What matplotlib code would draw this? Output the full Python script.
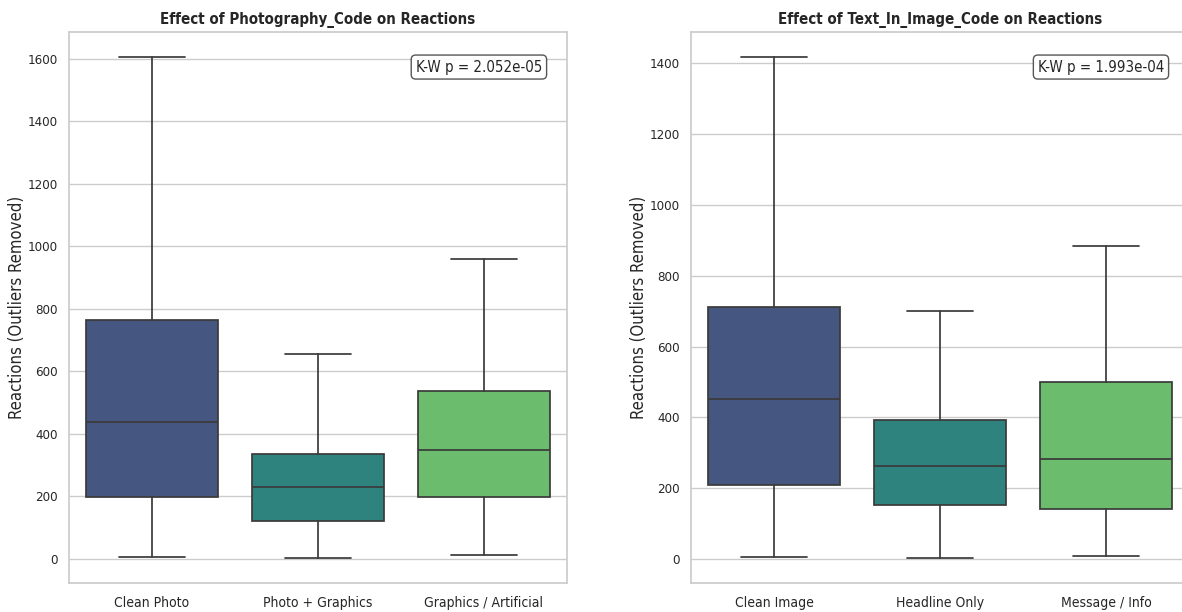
import numpy as np
import matplotlib
matplotlib.use("Agg")
import matplotlib.pyplot as plt
import seaborn as sns

## Data (whisker low, Q1, median, Q3, whisker high) ##
photo_labels = ["Clean Photo", "Photo + Graphics", "Graphics / Artificial"]
photo_low = [6, 3, 12]
photo_q1 = [198, 120, 197]
photo_med = [438, 229, 348]
photo_q3 = [764, 336, 538]
photo_high = [1606, 655, 961]
photo_p = 2.052e-05

text_labels = ["Clean Image", "Headline Only", "Message / Info"]
text_low = [6, 3, 9]
text_q1 = [209, 153, 141]
text_med = [451, 264, 282]
text_q3 = [711, 393, 499]
text_high = [1418, 700, 885]
text_p = 1.993e-04

sns.set_theme(style="whitegrid")
plt.rcParams['font.family'] = ['DejaVu Sans Condensed', 'DejaVu Sans']
plt.rcParams['font.stretch'] = 'condensed'

pal = [sns.desaturate(c, 0.75) for c in sns.color_palette("viridis", 3)]
line_col = "#3a3a3a"


def draw_panel(ax, labels, low, q1, med, q3, high, pval, col_name):
    stats = []
    for i, lab in enumerate(labels):
        stats.append(dict(label=lab, whislo=low[i], q1=q1[i], med=med[i],
                          q3=q3[i], whishi=high[i], fliers=[]))
    bp = ax.bxp(stats, positions=range(len(labels)), widths=0.8,
                patch_artist=True, showfliers=False,
                boxprops=dict(edgecolor=line_col, linewidth=1.25),
                medianprops=dict(color=line_col, linewidth=1.25),
                whiskerprops=dict(color=line_col, linewidth=1.25),
                capprops=dict(color=line_col, linewidth=1.25))
    for patch, c in zip(bp['boxes'], pal):
        patch.set_facecolor(c)
    ax.set_xlim(-0.5, len(labels) - 0.5)
    lo, hi = min(low), max(high)
    pad = (hi - lo) * 0.05
    ax.set_ylim(lo - pad, hi + pad)
    ax.xaxis.grid(False)
    ax.set_title(f"Effect of {col_name} on Reactions", fontsize=10.8, fontweight='bold')
    ax.set_ylabel("Reactions (Outliers Removed)", fontsize=12)
    ax.yaxis.set_label_coords(-0.086, 0.5)
    ax.set_xlabel("")
    ax.tick_params(labelsize=10)
    ax.tick_params(axis='y', labelsize=9.5, pad=2)
    ax.text(0.95, 0.95, f"K-W p = {pval:.3e}", transform=ax.transAxes,
            ha='right', va='top', fontsize=10.8,
            bbox=dict(boxstyle='round', facecolor='white', edgecolor='#444444', alpha=0.9))


fig = plt.figure(figsize=(11.82, 6.12), dpi=100)
ax1 = fig.add_axes([69 / 1182, 29 / 612, 498 / 1182, 551 / 612])
ax2 = fig.add_axes([691 / 1182, 29 / 612, 498 / 1182, 551 / 612])

draw_panel(ax1, photo_labels, photo_low, photo_q1, photo_med, photo_q3, photo_high,
           photo_p, "Photography_Code")
draw_panel(ax2, text_labels, text_low, text_q1, text_med, text_q3, text_high,
           text_p, "Text_In_Image_Code")

fig.savefig("out.png", dpi=100)
